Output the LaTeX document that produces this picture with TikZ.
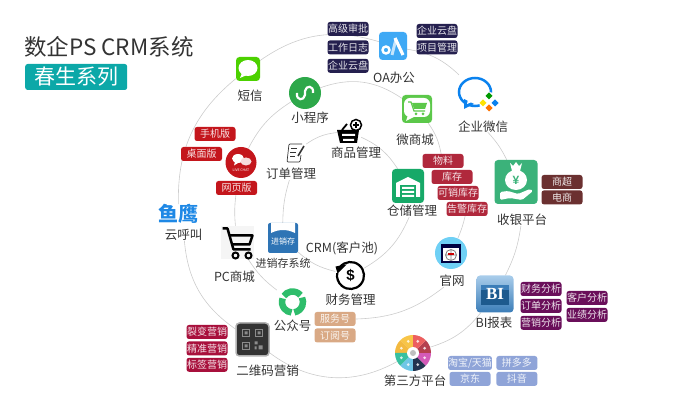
\documentclass[tikz,border=0pt]{standalone}
\usepackage{fontspec}
\usepackage{xcolor}
\setmainfont{Noto Sans CJK SC}
\newfontfamily\bifont{Liberation Serif}
\newfontfamily\sansbold{Liberation Sans}
\usetikzlibrary{positioning}
\usetikzlibrary{shapes.geometric}
\usetikzlibrary{backgrounds}

\definecolor{textgray}{HTML}{333333}
\definecolor{ringgray}{HTML}{CCCCCC}
\definecolor{titleteal}{HTML}{0CA8A8}
\definecolor{tagnavy}{HTML}{25204F}
\definecolor{tagred}{HTML}{C4161C}
\definecolor{tagrose}{HTML}{B0283C}
\definecolor{tagbrown}{HTML}{6B3030}
\definecolor{tagpurple}{HTML}{6A0F5A}
\definecolor{tagblue}{HTML}{8FA4D8}
\definecolor{tagcrimson}{HTML}{A8103C}
\definecolor{tagtan}{HTML}{D9A985}
\definecolor{smsgreen}{HTML}{4CD100}
\definecolor{minigreen}{HTML}{2DA84A}
\definecolor{oablue}{HTML}{3FA9F5}
\definecolor{qyblue}{HTML}{0B82EE}
\definecolor{mallgreen}{HTML}{5CC84A}
\definecolor{depotgreen}{HTML}{17A968}
\definecolor{cashgreen}{HTML}{3BB27A}
\definecolor{wwwblue}{HTML}{6FD0F5}
\definecolor{gzhgreen}{HTML}{2EBD6B}
\definecolor{jxcblue}{HTML}{2E74B5}
\definecolor{yingblue}{HTML}{1E88E5}
\definecolor{bilight}{HTML}{A9CDEB}
\definecolor{bimid}{HTML}{3B7DB8}
\definecolor{bidark}{HTML}{1D5A8E}

\begin{document}
\begin{tikzpicture}
    [x=1pt, y=-1pt,
      % Stile für Texte
      lbl/.style={inner sep=0pt, text=textgray, font=\fontsize{12.5}{14}\selectfont},
      tagbox/.style={rectangle, rounded corners=2.5pt, fill=#1, text=white!88!#1, inner sep=0pt, minimum width=41pt, minimum height=14pt, font=\fontsize{10}{12}\selectfont},
      % Stile für Icons
      icon/.style={rectangle, rounded corners=3.5pt, inner sep=0pt},
      roundicon/.style={circle, inner sep=0pt},
      % Stil für die Ringe
      ring/.style={draw=ringgray, line width=0.6pt},
      node distance=4pt]
    \useasboundingbox (0,0) rectangle (681,403);

    % Titel
    \node[lbl, anchor=west, font=\fontsize{22.5}{26}\selectfont] (title) at (24,47) {数企PS CRM系统};
    \node[rectangle, rounded corners=2.5pt, fill=titleteal, text=white, inner sep=0pt, minimum width=102pt, minimum height=26pt, font=\fontsize{21}{24}\selectfont, anchor=west] (series) at (25,77) {春生系列};

    % Knoten: äußerer Ring
    \node[icon, fill=smsgreen, minimum size=24pt] (sms) at (248,69) {};
    \node[lbl, below=9pt of sms, xshift=2pt] (lsms) {短信};
    \node[icon, fill=oablue, minimum size=28pt] (oa) at (393,46) {};
    \node[lbl, below=12pt of oa, xshift=1pt] (loa) {OA办公};
    \node[tagbox=tagnavy] (tapprove) at (348,29) {高级审批};
    \node[tagbox=tagnavy, below=4pt of tapprove] (tlog) {工作日志};
    \node[tagbox=tagnavy, below=4pt of tlog] (tdisk) {企业云盘};
    \node[tagbox=tagnavy] (tdisktwo) at (437,31) {企业云盘};
    \node[tagbox=tagnavy, below=2pt of tdisktwo] (tproject) {项目管理};
    \node[icon, minimum width=40pt, minimum height=38pt] (qywx) at (477,94) {};
    \node[lbl, below=7pt of qywx, xshift=6pt] (lqywx) {企业微信};
    \node[icon, fill=cashgreen, minimum width=43pt, minimum height=44pt] (cash) at (516,182) {};
    \node[lbl, below=10pt of cash, xshift=6pt] (lcash) {收银平台};
    \node[tagbox=tagbrown] (tsuper) at (562,182) {商超};
    \node[tagbox=tagbrown, below=1pt of tsuper] (tshop) {电商};
    \node[icon, top color=bilight, bottom color=bimid, minimum size=37pt] (bi) at (495,294) {};
    \node[lbl, below=4pt of bi, xshift=-1pt] (lbi) {BI报表};
    \node[tagbox=tagpurple] (tfin) at (541,289) {财务分析};
    \node[tagbox=tagpurple, below=2.5pt of tfin] (torder) {订单分析};
    \node[tagbox=tagpurple, below=2.5pt of torder] (tmark) {营销分析};
    \node[tagbox=tagpurple] (tcust) at (587,298) {客户分析};
    \node[tagbox=tagpurple, below=2.5pt of tcust] (tperf) {业绩分析};
    \node[roundicon, minimum size=36pt] (third) at (413,353) {};
    \node[lbl, below=4pt of third, xshift=2pt] (lthird) {第三方平台};
    \node[tagbox=tagblue] (ttao) at (470,363) {淘宝/天猫};
    \node[tagbox=tagblue, right=4pt of ttao] (tpdd) {拼多多};
    \node[tagbox=tagblue, below=1.5pt of ttao] (tjd) {京东};
    \node[tagbox=tagblue, below=1.5pt of tpdd] (tdy) {抖音};
    \node[icon, fill=black!80, draw=black!30, line width=1.5pt, minimum size=33pt] (qr) at (252.5,339.5) {};
    \node[lbl, below=8pt of qr, xshift=15pt] (lqr) {二维码营销};
    \node[tagbox=tagcrimson] (tfiss) at (207,332) {裂变营销};
    \node[tagbox=tagcrimson, below=2pt of tfiss] (tprec) {精准营销};
    \node[tagbox=tagcrimson, below=2pt of tprec] (tlabel) {标签营销};
    \node[inner sep=0pt, text=yingblue, font=\bfseries\fontsize{20}{22}\selectfont] (ying) at (178.5,214) {鱼鹰};
    \node[lbl, below=5pt of ying, xshift=5pt] (lyun) {云呼叫};

    % Knoten: mittlerer Ring
    \node[roundicon, fill=minigreen, minimum size=32pt] (mini) at (305,93) {};
    \node[lbl, below=3pt of mini, xshift=5pt] (lmini) {小程序};
    \node[icon, fill=mallgreen, minimum width=30pt, minimum height=28pt] (mall) at (417,109) {};
    \node[lbl, below=11pt of mall, xshift=-2pt] (lmall) {微商城};
    \node[tagbox=tagrose] (tmat) at (443,161) {物料};
    \node[tagbox=tagrose] (tstock) at (452,177) {库存};
    \node[tagbox=tagrose] (tsale) at (458,193) {可销库存};
    \node[tagbox=tagrose] (talarm) at (467,209) {告警库存};
    \node[roundicon, fill=wwwblue, minimum size=32pt] (www) at (451,253) {};
    \node[lbl, below=6pt of www, xshift=1pt] (lwww) {官网};
    \node[icon, minimum width=31pt, minimum height=27pt] (gzh) at (292.5,302) {};
    \node[lbl, below=4pt of gzh] (lgzh) {公众号};
    \node[tagbox=tagtan] (tserv) at (335,319) {服务号};
    \node[tagbox=tagtan, below=2pt of tserv] (tsub) {订阅号};
    \node[icon, fill=black!4, rounded corners=0pt, minimum size=33pt] (cart) at (237.5,242.5) {};
    \node[lbl, below=12pt of cart, xshift=-3pt] (lcart) {PC商城};
    \node[roundicon, fill=tagred, minimum size=31pt] (live) at (241,162.5) {};
    \node[tagbox=tagred] (tphone) at (215,134) {手机版};
    \node[tagbox=tagred] (tdesk) at (201.5,154) {桌面版};
    \node[tagbox=tagred] (tweb) at (236.5,188) {网页版};

    % Knoten: innerer Ring
    \node[icon, minimum size=22pt] (order) at (295,152) {};
    \node[lbl, below=5pt of order, xshift=-4pt] (lorder) {订单管理};
    \node[icon, minimum size=24pt] (goods) at (349,131) {};
    \node[lbl, below=4pt of goods, xshift=7pt] (lgoods) {商品管理};
    \node[icon, fill=depotgreen, minimum width=32pt, minimum height=34pt] (depot) at (408,186) {};
    \node[lbl, below=2pt of depot, xshift=4pt] (ldepot) {仓储管理};
    \node[roundicon, minimum size=31pt] (fin) at (350.5,275.5) {};
    \node[lbl, below=3pt of fin] (lfin) {财务管理};
    \node[icon, fill=jxcblue, rounded corners=2pt, minimum size=30pt] (jxc) at (283,238) {};
    \node[lbl, below=5pt of jxc, font=\fontsize{11}{13}\selectfont] (ljxc) {进销存系统};
    \node[lbl] (crm) at (342,248) {CRM(客户池)};

    % Kanten
    \begin{scope}[on background layer]
    \path[ring]
      (sms) edge[bend left=26] (oa)
      (oa) edge[bend left=17] (qywx)
      (lqywx) edge[bend left=8] (cash)
      (lcash) edge[bend left=9] (bi)
      (bi) edge[bend left=17] (third)
      (third) edge[bend left=33] (qr)
      (qr) edge[bend left=25] (lyun)
      (ying) edge[bend left=26] (sms);
    \path[ring]
      (mini) edge[bend left=27] (mall)
      (mall) edge[bend left=12] (tmat)
      (talarm) edge[bend left=5] (www)
      (lwww) edge[bend left=18] (tserv)
      (gzh) edge[bend left=10] (cart)
      (cart) edge[bend left=6] (tweb)
      (live) edge[bend left=15] (mini);
    \path[ring]
      (order) edge[bend left=14] (goods)
      (goods) edge[bend left=16] (depot)
      (ldepot) edge[bend left=18] (fin)
      (fin) edge[bend left=14] (jxc)
      (jxc) edge[bend left=8] (lorder);
    \end{scope}

    % Icon Kurznachricht
    \begin{scope}[shift={(sms)}]
      \fill[white] (0,-1) ellipse (9.5 and 8);
      \fill[white] (-6,4) -- (-8,9) -- (-1,6) -- cycle;
    \end{scope}
    % Icon Miniprogramm
    \begin{scope}[shift={(mini)}]
      \draw[white, line width=2.2pt] (-8,0) .. controls (-9,8) and (-1,8) .. (0,2) -- (0,-2) .. controls (1,-8) and (9,-8) .. (8,0);
    \end{scope}
    % Icon OA
    \begin{scope}[shift={(oa)}]
      \draw[white, line width=2.4pt] (-7,4) circle (3.5);
      \draw[white!70!oablue, line width=3pt] (3,-7) -- (-1,9);
      \draw[white, line width=3.2pt] (2,-8) -- (10,9);
    \end{scope}
    % Icon Unternehmens-WeChat
    \begin{scope}[shift={(qywx)}]
      \draw[qyblue, line width=2.5pt] (-2,-2) ellipse (16 and 14);
      \fill[qyblue] (-13,5) -- (-13,15) -- (-3,10) -- cycle;
      \fill[white] (-9,5) -- (-10,10) -- (-5,8) -- cycle;
      \fill[white] (12,8) circle (10);
      \foreach \dx/\dy/\dotcolor in {12/2/green!60!black, 18/9/qyblue, 12/14/orange!90!red, 6/9/yellow!85!orange}
        \fill[\dotcolor] (\dx,\dy-3.5) -- (\dx+3.5,\dy) -- (\dx,\dy+3.5) -- (\dx-3.5,\dy) -- cycle;
    \end{scope}
    % Icon Shop
    \begin{scope}[shift={(mall)}]
      \fill[white, rounded corners=6pt] (-13,-11) rectangle (13,8);
      \fill[white] (-9,6) -- (-11,12) -- (-3,8) -- cycle;
      \draw[mallgreen, line width=1.2pt] (-9,-7) -- (-6,-7) -- (-3,2) -- (8,2);
      \fill[mallgreen] (-5,-6) -- (10,-6) -- (8,0) -- (-3,0) -- cycle;
      \fill[mallgreen] (-1,5) circle (1.5) (6,5) circle (1.5);
    \end{scope}
    % Icon Waren
    \begin{scope}[shift={(goods)}]
      \fill[black] (-12,-1) -- (10,-1) -- (8,12) -- (-9,12) -- cycle;
      \fill[white] (-7,3) rectangle (6,5) (-6,8) rectangle (5,10);
      \draw[black, line width=1.8pt] (-7,-1) -- (-2,-7);
      \draw[black, line width=1.5pt] (7,-6) circle (5.5);
      \draw[black, line width=1.5pt] (7,-9) -- (7,-3) (4,-6) -- (10,-6);
    \end{scope}
    % Icon Bestellung
    \begin{scope}[shift={(order)}]
      \draw[textgray, line width=0.7pt, rounded corners=1pt] (7,-8) -- (-6,-8) -- (-8,10) -- (5,10) -- (6,3);
      \draw[textgray, line width=0.6pt] (-4,-4) -- (2,-4) (-5,0) -- (1,0) (-5,4) -- (0,4);
      \draw[textgray, line width=1.6pt] (3,4) -- (9,-6);
    \end{scope}
    % Icon Live-Chat
    \begin{scope}[shift={(live)}]
      \fill[white] (-3,-4) ellipse (6 and 4.5);
      \fill[white] (-6,-1) -- (-7,3) -- (-2,0) -- cycle;
      \fill[white!85!tagred] (5,-1) ellipse (5.5 and 4);
      \node[inner sep=0pt, text=white, font=\fontsize{3.5}{4}\selectfont] (livetext) at (0,8) {LIVE CHAT};
    \end{scope}
    % Icon Lager
    \begin{scope}[shift={(depot)}]
      \fill[white] (-12,-3) -- (0,-9) -- (12,-3) -- (12,11) -- (-12,11) -- cycle;
      \fill[depotgreen] (-8,-1) rectangle (8,11);
      \fill[white] (-6,1) rectangle (6,3) (-6,5) rectangle (6,7) (-6,9) rectangle (6,11);
    \end{scope}
    % Icon Kasse
    \begin{scope}[shift={(cash)}]
      \fill[white] (-6,-19) -- (-3,-16) -- (0,-20) -- (3,-16) -- (6,-19) -- (4,-11) -- (-4,-11) -- cycle;
      \fill[white] (0,-2) ellipse (11 and 10);
      \node[inner sep=0pt, text=cashgreen, font=\sansbold\bfseries\fontsize{12}{12}\selectfont] (cashsign) at (0,-2) {¥};
      \fill[white, rounded corners=1.5pt] (-16,10) -- (-8,9) -- (2,12) -- (14,7) -- (17,9) -- (6,18) -- (-6,16) -- (-16,18) -- cycle;
    \end{scope}
    % Icon Webseite
    \begin{scope}[shift={(www)}]
      \fill[black!75!blue] (-10,-9) rectangle (10,10);
      \fill[white] (-8,-5) rectangle (8,8);
      \draw[gray, line width=0.8pt] (0,2) circle (5.5) (-5.5,2) -- (5.5,2) (0,-3.5) -- (0,7.5);
      \fill[red!80!black] (-3,0.5) rectangle (3,2.5);
    \end{scope}
    % Icon BI
    \begin{scope}[shift={(bi)}]
      \fill[bidark] (-14,-9) rectangle (14,11);
      \fill[bimid] (-14,-9) rectangle (14,-4);
      \node[inner sep=0pt, text=white, font=\bifont\bfseries\fontsize{17}{17}\selectfont] (bitext) at (0,0) {BI};
    \end{scope}
    % Icon Drittplattform
    \begin{scope}[shift={(third)}]
      \foreach \a/\slicecolor in {90/F8C548, 135/F3B93F, 180/38C0A0, 225/6EC6E6, 270/23344F, 315/D45AB8, 0/B5404F, 45/EC5F5F}{
        \definecolor{slice}{HTML}{\slicecolor}
        \fill[slice] (0,0) -- (\a:18pt) arc[start angle=\a, end angle=\a+45, radius=18pt] -- cycle;
        \fill[white!80!slice] (\a+22.5:12.5pt) circle (1.5);
      }
      \fill[white] (0,0) circle (6);
      \fill[black!25] (0,0) circle (3);
    \end{scope}
    % Icon QR-Code
    \begin{scope}[shift={(qr)}]
      \draw[black!45, line width=0.9pt] (-10,-10) rectangle (-3,-3) (3,-10) rectangle (10,-3) (-10,3) rectangle (-3,10);
      \fill[black!45] (-8,-8) rectangle (-5,-5) (5,-8) rectangle (8,-5) (-8,5) rectangle (-5,8) (2,2) rectangle (5,5) (6,6) rectangle (10,10) (2,7) rectangle (4,10);
    \end{scope}
    % Icon Offizieller Account
    \begin{scope}[shift={(gzh)}]
      \foreach \a in {40,160,280}
        \draw[gzhgreen, line width=6.5pt] (\a:10.5pt) arc[start angle=\a, end angle=\a+105, radius=10.5pt];
    \end{scope}
    % Icon Finanzen
    \begin{scope}[shift={(fin)}]
      \draw[black, line width=2.2pt] (140:13.5pt) arc[start angle=140, end angle=-190, radius=13.5pt];
      \fill[black] (-15,-9) -- (-4,-11) -- (-13,-2) -- cycle;
      \node[inner sep=0pt, text=black, font=\sansbold\bfseries\fontsize{15}{15}\selectfont] (finsign) at (0,0) {\$};
    \end{scope}
    % Icon Warenwirtschaft
    \begin{scope}[shift={(jxc)}]
      \fill[white] (-12,-15) -- (12,-15) -- (12,-5) .. controls (4,-9) and (-4,-9) .. (-12,-5) -- cycle;
      \node[inner sep=0pt, text=white, font=\fontsize{8}{8}\selectfont] (jxctext) at (0,3) {进销存};
    \end{scope}
    % Icon Warenkorb
    \begin{scope}[shift={(cart)}]
      \draw[black, line width=2.5pt, line join=round] (-15,-14) -- (-10,-14) -- (-4,7) -- (13,7);
      \draw[black, line width=2.5pt, line join=round] (-8,-7) -- (15,-7) -- (12,2) -- (-5,2);
      \draw[black, line width=2pt] (-2,13) circle (3) (11,13) circle (3);
    \end{scope}
\end{tikzpicture}
\end{document}
